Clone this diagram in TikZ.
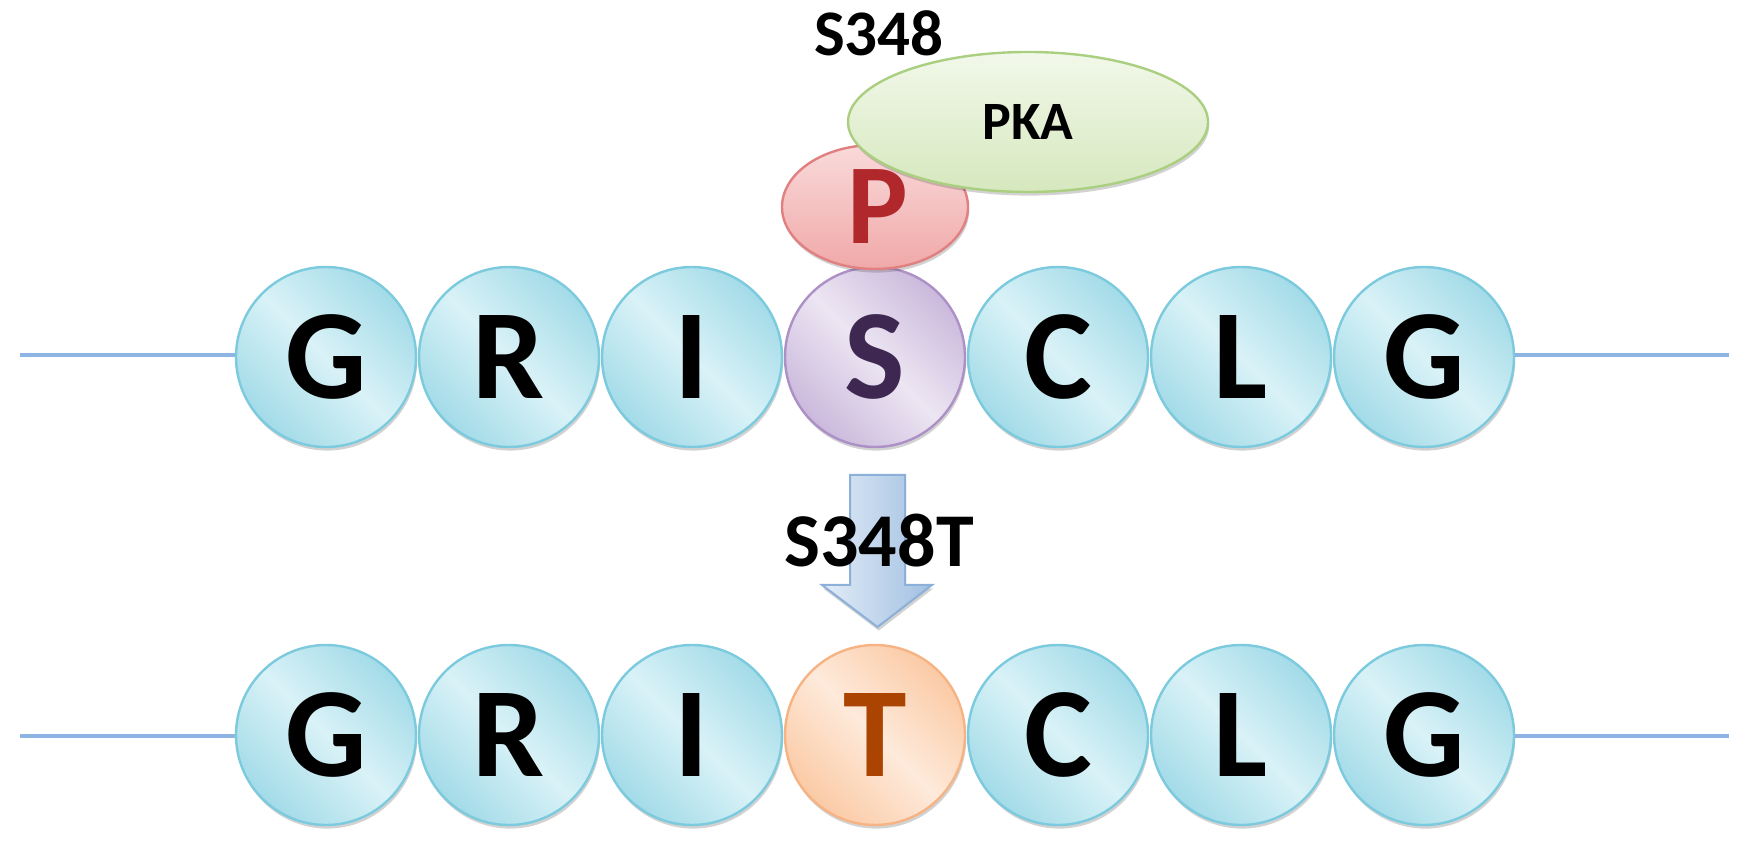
\documentclass[tikz,border=0pt]{standalone}
\usepackage{fontspec}
\setmainfont{Carlito}
\usepackage{tikz}
\usetikzlibrary{shapes.geometric,shadows}

\definecolor{aaLight}{HTML}{D9F2F7}
\definecolor{aaDark}{HTML}{A3DBE8}
\definecolor{aaEdge}{HTML}{7CCADD}
\definecolor{serLight}{HTML}{ECE5F2}
\definecolor{serDark}{HTML}{CBB9DC}
\definecolor{serEdge}{HTML}{AC90C6}
\definecolor{serText}{HTML}{3E2852}
\definecolor{thrLight}{HTML}{FEEADB}
\definecolor{thrDark}{HTML}{FBCAA5}
\definecolor{thrEdge}{HTML}{F6B383}
\definecolor{thrText}{HTML}{AA4400}
\definecolor{phLight}{HTML}{FADADA}
\definecolor{phDark}{HTML}{F0A8A8}
\definecolor{phEdge}{HTML}{E08080}
\definecolor{phText}{HTML}{B0282C}
\definecolor{pkaLight}{HTML}{F2F8EA}
\definecolor{pkaDark}{HTML}{D6E8BE}
\definecolor{pkaEdge}{HTML}{AACF80}
\definecolor{chainCol}{HTML}{8EB4E3}
\definecolor{arLight}{HTML}{E2ECF7}
\definecolor{arDark}{HTML}{A2C0E2}
\definecolor{arEdge}{HTML}{8DB0D8}

\begin{document}
\begin{tikzpicture}[
    x=0.5pt, y=-0.5pt,
    softshadow/.style={drop shadow={shadow xshift=0.6pt, shadow yshift=-1.8pt,
        opacity=0.25, fill=black!70}},
    aa/.style={
        circle, draw=aaEdge, line width=1.2pt, inner sep=0pt,
        minimum size=90pt, softshadow,
        top color=aaDark, bottom color=aaDark, middle color=aaLight,
        shading angle=-45,
        font=\fontsize{64}{64}\selectfont\bfseries
    },
    ser/.style={aa, draw=serEdge, top color=serDark, bottom color=serDark,
        middle color=serLight, shading angle=-45, text=serText},
    thr/.style={aa, draw=thrEdge, top color=thrDark, bottom color=thrDark,
        middle color=thrLight, shading angle=-45, text=thrText},
    blob/.style={ellipse, line width=1.2pt, inner sep=0pt, softshadow},
    lbl/.style={inner sep=0pt, font=\bfseries},
    chain/.style={draw=chainCol, line width=2.4pt}
]
\useasboundingbox (0,0) rectangle (1749,854);

% wild type
\coordinate (wl) at (20,355);
\coordinate (wr) at (1729,355);
\draw[chain] (wl) -- (326,355);
\draw[chain] (1424,355) -- (wr);
\node[aa]  (g1) at (326,357)  {G};
\node[aa]  (r1) at (509,357)  {R};
\node[aa]  (i1) at (692,357)  {I};
\node[ser] (s1) at (875,357)  {S};
\node[aa]  (c1) at (1058,357) {C};
\node[aa]  (l1) at (1241,357) {L};
\node[aa]  (g2) at (1424,357) {G};

\node[blob, draw=phEdge, top color=phLight, bottom color=phDark,
      minimum width=93pt, minimum height=62pt,
      font=\fontsize{57}{57}\selectfont\bfseries, text=phText]
      (ph) at (875,207) {\raisebox{-2pt}{\hspace{3pt}P}};
\node[blob, draw=pkaEdge, top color=pkaLight, bottom color=pkaDark,
      minimum width=180pt, minimum height=70pt,
      font=\fontsize{27}{27}\selectfont\bfseries]
      (pka) at (1028,122) {PKA};
\node[lbl, font=\fontsize{32.5}{32.5}\selectfont\bfseries] (site) at (879,33) {S348};

% mutant
\coordinate (ml) at (20,736);
\coordinate (mr) at (1729,736);
\draw[chain] (ml) -- (326,736);
\draw[chain] (1424,736) -- (mr);
\node[aa]  (g3) at (326,735)  {G};
\node[aa]  (r2) at (509,735)  {R};
\node[aa]  (i2) at (692,735)  {I};
\node[thr] (t2) at (875,735)  {T};
\node[aa]  (c2) at (1058,735) {C};
\node[aa]  (l2) at (1241,735) {L};
\node[aa]  (g4) at (1424,735) {G};

\draw[draw=arEdge, line width=1pt, left color=arLight, right color=arDark, softshadow]
    (850,475) -- (905,475) -- (905,585) -- (932,585) -- (877.5,627)
    -- (822,585) -- (850,585) -- cycle;
\node[lbl, font=\fontsize{38}{38}\selectfont\bfseries] (mut) at (879,541) {S348T};
\end{tikzpicture}
\end{document}
